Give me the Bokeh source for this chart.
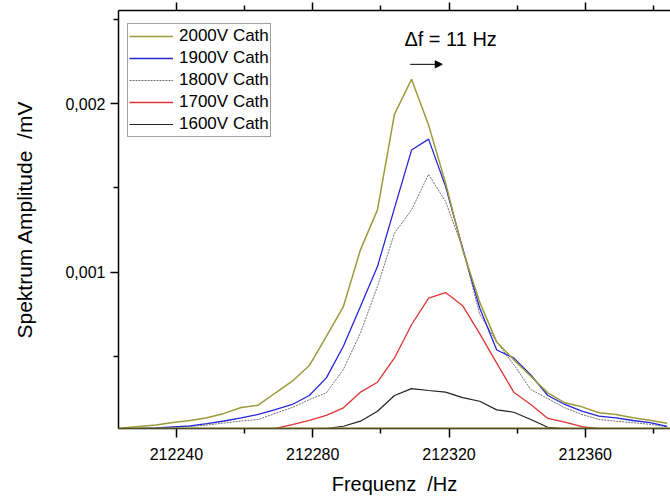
from bokeh.plotting import figure
from bokeh.models import (Range1d, LinearAxis, FixedTicker, Legend, LegendItem, Label,
                          Arrow, NormalHead, Span, CustomJSTickFormatter, BasicTickFormatter)
from bokeh.embed import file_html
from bokeh.resources import INLINE
import numpy as np

# ---------------- data (amplitudes in units of 1e-3 mV) ----------------
freq = [212224, 212229, 212234, 212239, 212244, 212249, 212254, 212259, 212264, 212269,
        212274, 212279, 212284, 212289, 212294, 212299, 212304, 212309, 212314, 212319,
        212324, 212329, 212334, 212339, 212344, 212349, 212354, 212359, 212364, 212369,
        212374, 212379, 212384]

amp_2000 = [0.076, 0.085, 0.093, 0.108, 0.120, 0.136, 0.162, 0.197, 0.211, 0.283,
            0.353, 0.446, 0.619, 0.796, 1.132, 1.369, 1.937, 2.144, 1.872, 1.527,
            1.132, 0.822, 0.585, 0.481, 0.382, 0.284, 0.225, 0.201, 0.166, 0.156,
            0.136, 0.122, 0.104]
amp_1900 = [0.071, 0.073, 0.076, 0.082, 0.088, 0.102, 0.117, 0.135, 0.156, 0.185,
            0.215, 0.268, 0.373, 0.560, 0.796, 1.033, 1.380, 1.724, 1.789, 1.507,
            1.142, 0.787, 0.538, 0.491, 0.390, 0.268, 0.215, 0.175, 0.146, 0.136,
            0.120, 0.107, 0.085]
amp_1800 = [0.071, 0.071, 0.074, 0.079, 0.085, 0.093, 0.105, 0.117, 0.126, 0.162,
            0.197, 0.244, 0.284, 0.422, 0.639, 0.915, 1.231, 1.369, 1.580, 1.418,
            1.142, 0.752, 0.585, 0.451, 0.304, 0.249, 0.195, 0.156, 0.126, 0.116,
            0.107, 0.097, 0.083]
amp_1700 = [0.070, 0.070, 0.070, 0.070, 0.070, 0.070, 0.070, 0.070, 0.070, 0.073,
            0.096, 0.120, 0.150, 0.195, 0.288, 0.347, 0.491, 0.688, 0.846, 0.879,
            0.801, 0.635, 0.460, 0.288, 0.215, 0.132, 0.110, 0.083, 0.071, 0.070,
            0.070, 0.070, 0.070]
amp_1600 = [0.070, 0.070, 0.070, 0.070, 0.070, 0.070, 0.070, 0.070, 0.070, 0.070,
            0.070, 0.070, 0.072, 0.086, 0.116, 0.175, 0.268, 0.309, 0.298, 0.288,
            0.256, 0.234, 0.183, 0.169, 0.126, 0.080, 0.070, 0.070, 0.070, 0.070,
            0.070, 0.070, 0.070]

UNIT = 1e-3
series_names = ["2000V Cath", "1900V Cath", "1800V Cath", "1700V Cath", "1600V Cath"]
series_vals = [amp_2000, amp_1900, amp_1800, amp_1700, amp_1600]

x_ticks = [212240, 212280, 212320, 212360]
x_minor = [212220, 212260, 212300, 212340, 212380]
y_ticks = [0.001, 0.002]
y_minor = [0.0005, 0.0015, 0.0025]

X_START, X_END = 212223, 212385
Y_START, Y_END = 0.0000725, 0.0025518

shift_text = "\u0394f = 11 Hz"
shift_text_pos = (212306.9, 0.00238)
shift_arrow = (212308.6, 212318.0, 0.0022325)

# ---------------- styles ----------------
colors = ["#9b9b3c", "#2626d8", "#707070", "#e03434", "#222222"]
widths = [1.5, 1.3, 1.0, 1.3, 1.2]
dashes = ["solid", "solid", "2 1", "solid", "solid"]
FONT = "Liberation Sans"

p = figure(width=670, height=497, output_backend="svg", toolbar_location=None,
           x_range=Range1d(X_START, X_END), y_range=Range1d(Y_START, Y_END),
           min_border_left=118, min_border_right=0, min_border_top=10, min_border_bottom=68)
p.grid.visible = False
p.outline_line_color = None
p.background_fill_color = "white"
p.border_fill_color = "white"

def style_axis(ax):
    ax.axis_line_width = 1.5
    ax.axis_line_color = "black"
    ax.major_tick_line_width = 1.5
    ax.minor_tick_line_width = 1.5
    ax.major_tick_line_color = "black"
    ax.minor_tick_line_color = "black"
    ax.major_tick_in = 0
    ax.minor_tick_in = 0
    ax.major_label_text_font = FONT
    ax.major_label_text_font_size = "16px"
    ax.major_label_text_color = "black"
    ax.axis_label_text_font = FONT
    ax.axis_label_text_font_size = "20px"
    ax.axis_label_text_font_style = "normal"
    ax.axis_label_text_color = "black"

xa = p.xaxis[0]
xa.ticker = FixedTicker(ticks=x_ticks, minor_ticks=x_minor)
xa.formatter = BasicTickFormatter(use_scientific=False)
style_axis(xa)
xa.major_tick_out = 9
xa.minor_tick_out = 5
xa.major_label_standoff = 10
xa.axis_label = "Frequenz\u00a0 /Hz"
xa.axis_label_standoff = 10

ya = p.yaxis[0]
ya.ticker = FixedTicker(ticks=y_ticks, minor_ticks=y_minor)
ya.formatter = CustomJSTickFormatter(code="return tick.toFixed(3).replace('.', ',');")
style_axis(ya)
ya.major_tick_out = 8
ya.minor_tick_out = 5
ya.major_label_standoff = 5
ya.axis_label = "Spektrum Amplitude\u00a0 /mV"
ya.axis_label_text_font_size = "21px"
ya.axis_label_standoff = 26

top = LinearAxis(ticker=FixedTicker(ticks=x_ticks, minor_ticks=x_minor),
                 formatter=CustomJSTickFormatter(code="return '';"))
style_axis(top)
top.major_tick_out = 8
top.minor_tick_out = 5
top.major_label_standoff = 0
p.add_layout(top, "above")

# baseline along the bottom edge
p.add_layout(Span(location=Y_START, dimension="width", line_color=colors[0], line_width=2))

fx = np.array(freq, dtype=float)
renderers = {}
for name, vals, c, w, d in reversed(list(zip(series_names, series_vals, colors, widths, dashes))):
    r = p.line(fx, np.array(vals) * UNIT, line_color=c, line_width=w, line_dash=d)
    renderers[name] = r

items = [LegendItem(label=n, renderers=[renderers[n]]) for n in series_names]
legend = Legend(items=items, location=(9, 291))
legend.label_text_font = FONT
legend.label_text_font_size = "17px"
legend.label_text_color = "black"
legend.glyph_width = 44
legend.glyph_height = 22
legend.label_height = 22
legend.label_standoff = 6
legend.spacing = 0
legend.padding = 1
legend.margin = 0
legend.border_line_color = "#444444"
legend.border_line_width = 1
legend.background_fill_color = "white"
legend.background_fill_alpha = 1
p.add_layout(legend)

p.add_layout(Label(x=shift_text_pos[0], y=shift_text_pos[1], text=shift_text,
                   text_font=FONT, text_font_size="20px", text_color="black",
                   text_baseline="alphabetic"))
p.add_layout(Arrow(x_start=shift_arrow[0], x_end=shift_arrow[1], y_start=shift_arrow[2], y_end=shift_arrow[2],
                   line_width=1, line_color="black",
                   end=NormalHead(size=7, fill_color="black", line_color="black")))

open("out.html", "w").write(file_html(p, INLINE))
